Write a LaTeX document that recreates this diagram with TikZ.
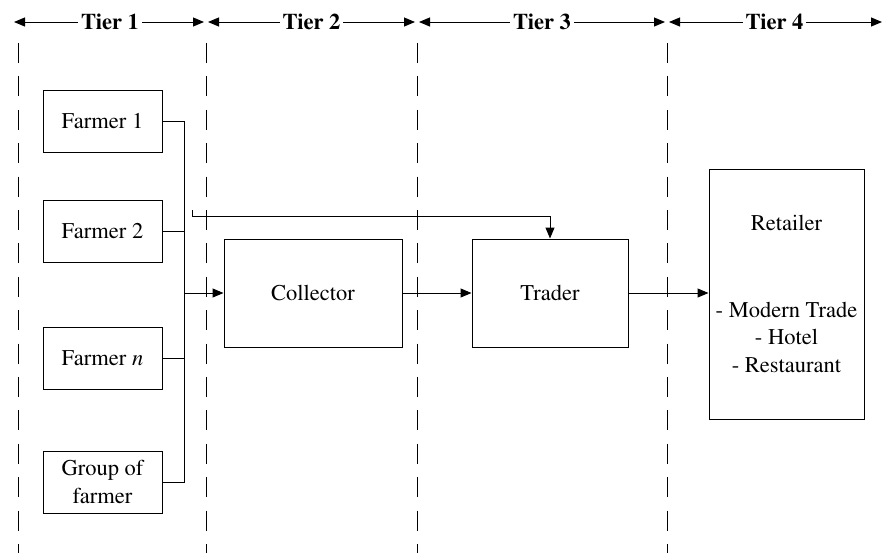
\documentclass[tikz,border=0pt]{standalone}
\usepackage[T1]{fontenc}
\usepackage{mathptmx}
\usetikzlibrary{arrows.meta}

\begin{document}
\begin{tikzpicture}[x=0.5pt,y=-0.5pt,semithick,line width=0.5pt,
  >={Triangle[length=5.5pt,width=4.5pt]},
  every node/.style={font=\fontsize{11.25}{13.8}\selectfont},
  box/.style={draw,align=center,inner sep=2pt},
  farmer/.style={box,minimum width=59.5pt,minimum height=31pt},
  tierline/.style={dash pattern=on 10pt off 6.7pt},
  tierlabel/.style={fill=white,inner sep=1.5pt,font=\fontsize{11.25}{13.8}\selectfont\bfseries}]
  \useasboundingbox (0,0) rectangle (883,553);
  % tier borders
  \foreach \x in {18,206,417,667}
    \draw[tierline] (\x,43) -- (\x,553);
  \coordinate (t0) at (14,22);
  \coordinate (t1) at (206,22);
  \coordinate (t2) at (417,22);
  \coordinate (t3) at (667,22);
  \coordinate (t4) at (882,22);
  \draw[<->,shorten >=1pt] (t0) -- (t1) node[midway,tierlabel] {Tier 1};
  \draw[<->,shorten <=1pt,shorten >=1pt] (t1) -- (t2) node[midway,tierlabel] {Tier 2};
  \draw[<->,shorten <=1pt,shorten >=1pt] (t2) -- (t3) node[midway,tierlabel] {Tier 3};
  \draw[<->,shorten <=1pt] (t3) -- (t4) node[midway,tierlabel] {Tier 4};
  % actors
  \node[farmer] (f1) at (102.5,121) {Farmer 1};
  \node[farmer] (f2) at (102.5,231) {Farmer 2};
  \node[farmer] (fn) at (102.5,358) {Farmer \textit{n}};
  \node[farmer] (grp) at (102.5,482) {Group of\\farmer};
  \node[box,minimum width=89pt,minimum height=54pt] (col) at (313,293) {Collector};
  \node[box,minimum width=78pt,minimum height=54pt] (tra) at (550,293) {Trader};
  \node[box,minimum width=77.5pt,minimum height=125pt] (ret) at (786.5,294)
    {Retailer\\[29.5pt]- Modern Trade\\- Hotel\\- Restaurant};
  % flows
  \coordinate (bus) at (184,0);
  \draw (f1.east) -- (f1.east -| bus) |- (grp.east);
  \draw (f2.east) -- (f2.east -| bus);
  \draw (fn.east) -- (fn.east -| bus);
  \draw[->] (col.west -| bus) -- (col.west);
  \draw[->] (col.east) -- (tra.west);
  \draw[->] (tra.east) -- (tra.east -| ret.west);
  \coordinate (byp) at (192,210);
  \draw[->] (byp) -- ++(0,6) -| (tra.north);
\end{tikzpicture}
\end{document}
